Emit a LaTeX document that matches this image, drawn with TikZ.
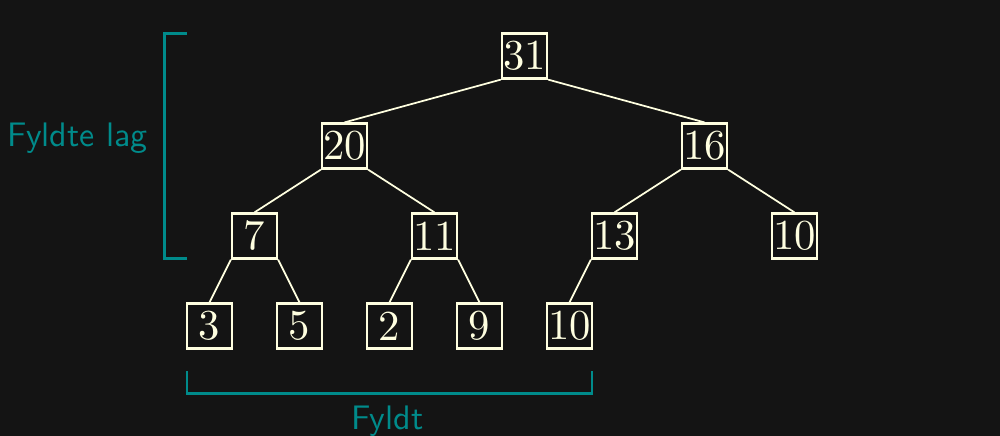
\documentclass[tikz,border=0pt]{standalone}
\usepackage{xcolor}
\usepackage{graphicx}
\definecolor{bg}{HTML}{141414}
\definecolor{cream}{HTML}{FFFFE0}
\definecolor{tealc}{HTML}{008B8B}
\newcommand{\bignum}[1]{\scalebox{2.7}{\fontsize{10}{12}\selectfont #1}}
\newcommand{\biglab}[1]{\scalebox{2.15}{\fontsize{10}{12}\selectfont\sffamily #1}}
\begin{document}
\begin{tikzpicture}[
  heapnode/.style={draw=cream, text=cream, line width=1.4pt, minimum size=1cm, inner sep=0pt},
  edgeline/.style={draw=cream, line width=1.1pt},
  bracketline/.style={draw=tealc, line width=1.4pt},
  lab/.style={text=tealc, anchor=base, inner sep=0pt}
]
\fill[bg] (-11.6556,1.2444) rectangle (10.5667,-8.4444);
\useasboundingbox (-11.6556,1.2444) rectangle (10.5667,-8.4444);

\node[heapnode] (n31) at (0,0) {\bignum{31}};
\node[heapnode] (n20) at (-4,-2) {\bignum{20}};
\node[heapnode] (n16) at (4,-2) {\bignum{16}};
\node[heapnode] (n7) at (-6,-4) {\bignum{7}};
\node[heapnode] (n11) at (-2,-4) {\bignum{11}};
\node[heapnode] (n13) at (2,-4) {\bignum{13}};
\node[heapnode] (n10a) at (6,-4) {\bignum{10}};
\node[heapnode] (n3) at (-7,-6) {\bignum{3}};
\node[heapnode] (n5) at (-5,-6) {\bignum{5}};
\node[heapnode] (n2) at (-3,-6) {\bignum{2}};
\node[heapnode] (n9) at (-1,-6) {\bignum{9}};
\node[heapnode] (n10b) at (1,-6) {\bignum{10}};

\draw[edgeline] (n31.south west) -- (n20.north);
\draw[edgeline] (n31.south east) -- (n16.north);
\draw[edgeline] (n20.south west) -- (n7.north);
\draw[edgeline] (n20.south east) -- (n11.north);
\draw[edgeline] (n16.south west) -- (n13.north);
\draw[edgeline] (n16.south east) -- (n10a.north);
\draw[edgeline] (n7.south west) -- (n3.north);
\draw[edgeline] (n7.south east) -- (n5.north);
\draw[edgeline] (n11.south west) -- (n2.north);
\draw[edgeline] (n11.south east) -- (n9.north);
\draw[edgeline] (n13.south west) -- (n10b.north);

\coordinate (lt) at (-7.5,0.5);
\coordinate (lb) at (-7.5,-4.5);
\draw[bracketline] (lt) -- (-8,0.5) -- (-8,-4.5) -- (lb);
\node[lab] (fl) at (-9.93,-2.02) {\biglab{Fyldte lag}};

\coordinate (bl) at (-7.5,-7);
\coordinate (br) at (1.5,-7);
\draw[bracketline] (bl) -- (-7.5,-7.5) -- (1.5,-7.5) -- (br);
\node[lab] (fy) at (-3.05,-8.29) {\biglab{Fyldt}};
\end{tikzpicture}
\end{document}
